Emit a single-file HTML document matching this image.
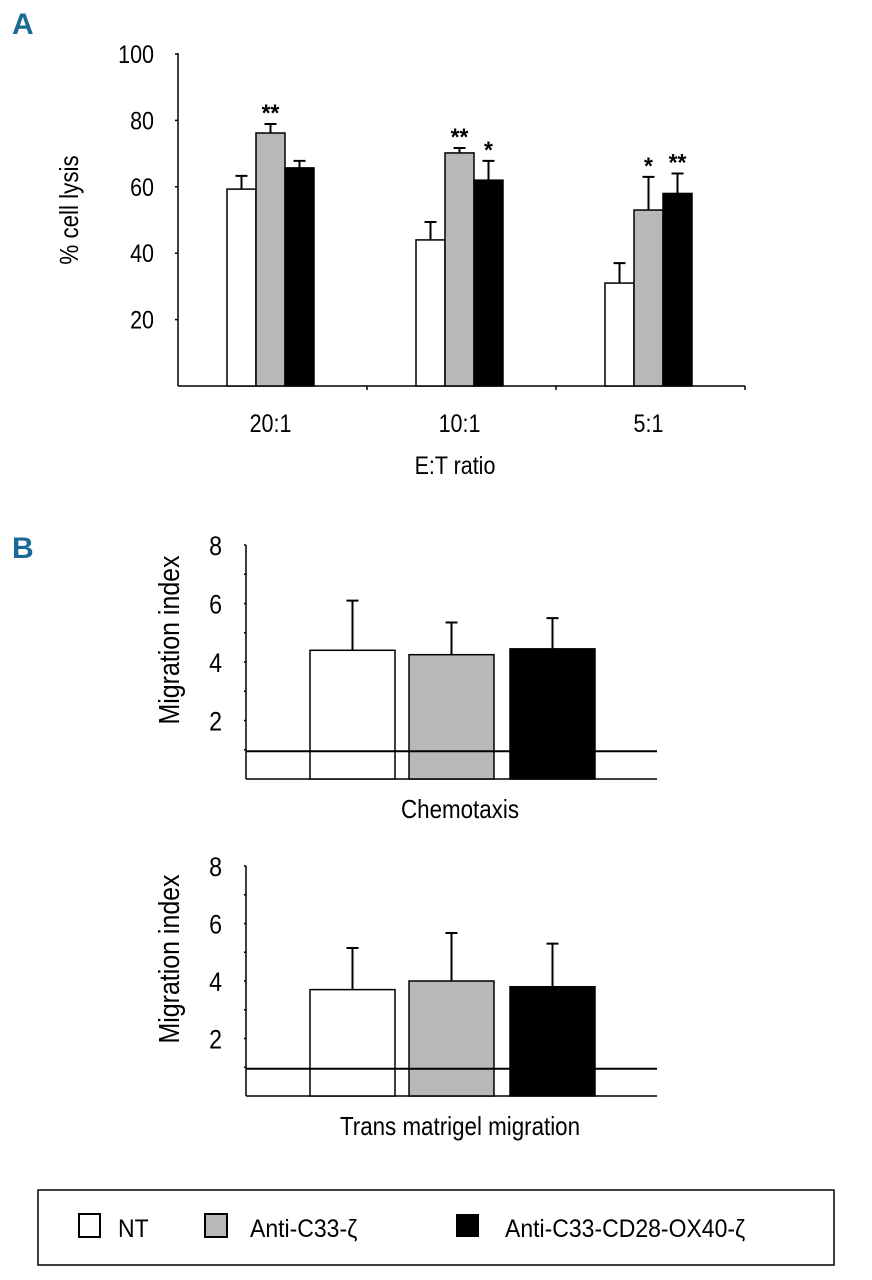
<!DOCTYPE html>
<html><head><meta charset="utf-8">
<style>
html,body{margin:0;padding:0;background:#fff;}
svg{display:block;font-family:"Liberation Sans Narrow","Liberation Sans",sans-serif;}
</style></head>
<body>
<svg id="fig" width="872" height="1280" viewBox="0 0 872 1280" xmlns="http://www.w3.org/2000/svg">
<text x="12" y="34" font-size="30" font-weight="bold" fill="#1a6a96" class="nc">A</text>
<text x="12" y="558" font-size="30" font-weight="bold" fill="#1a6a96" class="nc">B</text>
<g id="chartA"></g>
<g id="chartB1"></g>
<g id="chartB2"></g>
<g>
<rect x="38" y="1190" width="796" height="75" fill="#fff" stroke="#000" stroke-width="1.5"/>
<rect x="79" y="1214" width="21" height="23" fill="#fff" stroke="#000" stroke-width="2"/>
<text x="118" y="1237" font-size="25" data-f="0.92">NT</text>
<rect x="205" y="1214" width="22" height="23" fill="#b8b8b8" stroke="#000" stroke-width="2"/>
<text x="250" y="1237" font-size="25" data-f="0.92">Anti-C33-ζ</text>
<rect x="456" y="1214" width="23" height="23" fill="#000"/>
<text x="505" y="1237" font-size="25" data-f="0.92">Anti-C33-CD28-OX40-ζ</text>
</g>
</svg>
<script>
// Panel A data
const aCategories = ["20:1","10:1","5:1"];
const aNT = [59.3, 44, 31];
const aNTerr = [63.3, 49.4, 37];
const aC33 = [76.2, 70.2, 53];
const aC33err = [78.9, 71.7, 63];
const aOX = [65.7, 62, 58];
const aOXerr = [67.8, 67.8, 64];
const aC33stars = ["**","**","*"];
const aOXstars = ["","*","**"];
const aTicks = [20,40,60,80,100];
// Panel B data
const bTicks = [2,4,6,8];
const b1Values = [4.4, 4.25, 4.45];
const b1Err = [6.1, 5.35, 5.5];
const b2Values = [3.7, 4.0, 3.8];
const b2Err = [5.15, 5.67, 5.3];
const bRef = [0.95];

const NS="http://www.w3.org/2000/svg";
function mk(parent, tag, attrs){const e=document.createElementNS(NS,tag);for(const k in attrs)e.setAttribute(k,attrs[k]);parent.appendChild(e);return e;}
const fills=["#fff","#b8b8b8","#000"];

// ---- Chart A
(function(){
  const g=document.getElementById('chartA');
  const x0=178,x1=745,y0=386,yTop=53;
  const ys=v=>y0-v*3.32;
  const band=(x1-x0)/aCategories.length;
  const bw=29;
  let l=mk(g,'line',{x1:x0,y1:yTop,x2:x0,y2:y0,stroke:'#000','stroke-width':1.5});
  
  
  l=mk(g,'line',{x1:x0,y1:y0,x2:x1,y2:y0,stroke:'#000','stroke-width':1.5});
  
  
  aTicks.forEach(t=>{
    const y=ys(t);
    const tk=mk(g,'line',{x1:x0-3,y1:y,x2:x0,y2:y,stroke:'#000','stroke-width':1.5});
    
    
    const tx=mk(g,'text',{x:x0-24,y:y+9,'font-size':25,'text-anchor':'end'});
    tx.textContent=t;
    
    
  });
  for(let i=1;i<=aCategories.length;i++){
    const tk=mk(g,'line',{x1:x0+band*i,y1:y0,x2:x0+band*i,y2:y0+4,stroke:'#000','stroke-width':1.5});
    
    
  }
  const series=[[aNT,aNTerr,null],[aC33,aC33err,aC33stars],[aOX,aOXerr,aOXstars]];
  aCategories.forEach((c,i)=>{
    const cx=x0+band*(i+0.5)-2;
    series.forEach((s,j)=>{
      const bx=cx-1.5*bw+j*bw;
      const top=ys(s[0][i]), et=ys(s[1][i]);
      const r=mk(g,'rect',{x:bx,y:top,width:bw,height:y0-top,fill:fills[j],stroke:'#000','stroke-width':1.5});
      
      
      const em=bx+bw/2;
      const e1=mk(g,'path',{d:`M${em},${top}V${et}M${em-6},${et}H${em+6}`,stroke:'#000','stroke-width':2,fill:'none'});
      
      
      if(s[2]&&s[2][i]){
        const st=mk(g,'text',{x:em,y:et-3,'font-size':24,'font-weight':'bold','text-anchor':'middle'});
        st.textContent=s[2][i];
        
        
      }
    });
    const lb=mk(g,'text',{x:cx,y:y0+46,'font-size':25,'text-anchor':'middle'});
    lb.textContent=c;
    
    
  });
  const yt=mk(g,'text',{x:0,y:0,'data-rot':'78,210','font-size':26,'text-anchor':'middle'});
  yt.textContent='% cell lysis';
  
  
  const xt=mk(g,'text',{x:455,y:474,'font-size':25,'text-anchor':'middle'});
  xt.textContent='E:T ratio';
  
  
})();

// ---- Panel B
function drawB(id, yTop, y0, vals, errs, xlabel){
  const g=document.getElementById(id);
  const x0=246,x1=657;
  const k=(y0-yTop)/8;
  const ys=v=>y0-v*k;
  let l=mk(g,'line',{x1:x0,y1:yTop,x2:x0,y2:y0,stroke:'#000','stroke-width':1.5});
  
  
  l=mk(g,'line',{x1:x0,y1:y0,x2:x1,y2:y0,stroke:'#000','stroke-width':1.5});
  
  
  for(let t=1;t<=8;t++){
    const tk=mk(g,'line',{x1:x0-2,y1:ys(t),x2:x0,y2:ys(t),stroke:'#000','stroke-width':1.5});
    
    
  }
  bTicks.forEach(t=>{
    const tx=mk(g,'text',{x:x0-24,y:ys(t)+10,'font-size':27,'text-anchor':'end'});
    tx.textContent=t;
    
    
  });
  const starts=[310,409,510], bw=85;
  vals.forEach((v,j)=>{
    const top=ys(v), et=ys(errs[j]);
    const r=mk(g,'rect',{x:starts[j],y:top,width:bw,height:y0-top,fill:fills[j],stroke:'#000','stroke-width':1.5});
    
    
    const em=starts[j]+bw/2;
    const e1=mk(g,'path',{d:`M${em},${top}V${et}M${em-6},${et}H${em+6}`,stroke:'#000','stroke-width':2,fill:'none'});
    
    
  });
  const rl=mk(g,'line',{x1:x0,y1:ys(bRef[0]),x2:x1,y2:ys(bRef[0]),stroke:'#000','stroke-width':2});
  
  
  const yt=mk(g,'text',{x:0,y:0,'data-rot':`${x0-67},${(yTop+y0)/2-22}`,'font-size':29,'text-anchor':'middle'});
  yt.textContent='Migration index';
  
  
  const xt=mk(g,'text',{x:460,y:y0+39,'font-size':26,'text-anchor':'middle'});
  xt.textContent=xlabel;
  
  
}
drawB('chartB1',545,779,b1Values,b1Err,'Chemotaxis');
drawB('chartB2',866,1096,b2Values,b2Err,'Trans matrigel migration');

// condense text horizontally to mimic narrow font
document.querySelectorAll('#fig text').forEach(t=>{
  if(t.classList.contains('nc'))return;
  const f=t.getAttribute('data-f')?+t.getAttribute('data-f'):(t.getAttribute('font-weight')==='bold'?0.95:0.86);
  const rot=t.getAttribute('data-rot');
  if(rot){
    t.setAttribute('transform',`translate(${rot}) rotate(-90) scale(${f},1)`);
    t.removeAttribute('data-rot');
  } else {
    const x=+t.getAttribute('x'), y=+t.getAttribute('y');
    t.setAttribute('transform',`translate(${x},${y}) scale(${f},1) translate(${-x},${-y})`);
  }
});
</script>
</body></html>
